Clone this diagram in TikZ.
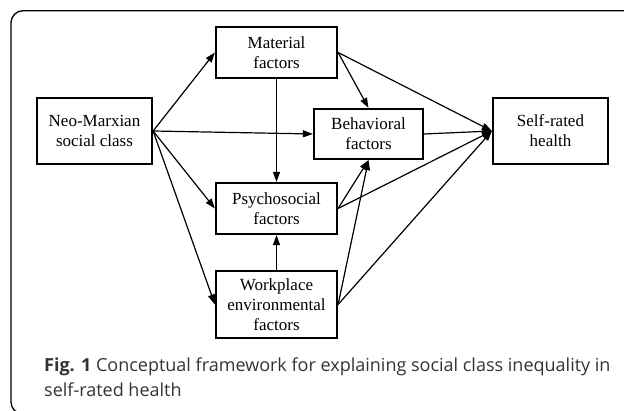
\documentclass[tikz,border=0pt]{standalone}
\usepackage{fontspec}
\setmainfont{Liberation Serif}
\newfontfamily\capfont{Open Sans}
\usetikzlibrary{arrows.meta}

\begin{document}
\begin{tikzpicture}[x=1pt, y=-1pt,
    box/.style={draw, line width=2.2pt, minimum width=121pt, minimum height=51pt,
      align=center, inner sep=2pt, font=\fontsize{17}{20}\selectfont},
    link/.style={-{Triangle[length=10pt,width=7pt]}, line width=1.2pt},
    captext/.style={anchor=base west, inner sep=0pt, text=black!80,
      font=\capfont\fontsize{18}{25}\selectfont}]
  \useasboundingbox (0,0) rectangle (624,411);
  % outer frame, cut at the right and bottom
  \begin{scope}
    \clip (0,0) rectangle (624,411);
    \draw[line width=1.3pt, rounded corners=12pt] (11,10.7) rectangle (650,414);
  \end{scope}

  \node[box, minimum width=115pt, minimum height=66pt] (neo) at (94.5,131) {Neo-Marxian\\social class};
  \node[box] (mat) at (276.5,52.5) {Material\\factors};
  \node[box, minimum width=109pt, minimum height=50pt] (beh) at (368.5,134) {Behavioral\\factors};
  \node[box] (psy) at (276.5,208.5) {Psychosocial\\factors};
  \node[box, minimum height=67pt] (work) at (276.5,304.5) {Workplace\\environmental\\factors};
  \node[box, minimum width=115pt, minimum height=66pt] (self) at (550.5,131) {Self-rated\\health};

  \draw[link] (neo.east) -- (mat.west);
  \draw[link] (neo.east) -- (beh.west);
  \draw[link] (neo.east) -- (psy.west);
  \draw[link] (neo.east) -- (work.west);
  \draw[link] (mat.south) -- (psy.north);
  \draw[link] (mat.east) -- (beh.north);
  \draw[link] (mat.east) -- (self.west);
  \draw[link] (beh.east) -- (self.west);
  \draw[link] (psy.east) -- (beh.south);
  \draw[link] (psy.east) -- (self.west);
  \draw[link] (work.north) -- (psy.south);
  \draw[link] (work.east) -- (beh.south);
  \draw[link] (work.east) -- (self.west);

  \node[captext] (cap1) at (44,372) {\textbf{Fig. 1} Conceptual framework for explaining social class inequality in};
  \node[captext] (cap2) at (44,397) {self-rated health};
\end{tikzpicture}
\end{document}
